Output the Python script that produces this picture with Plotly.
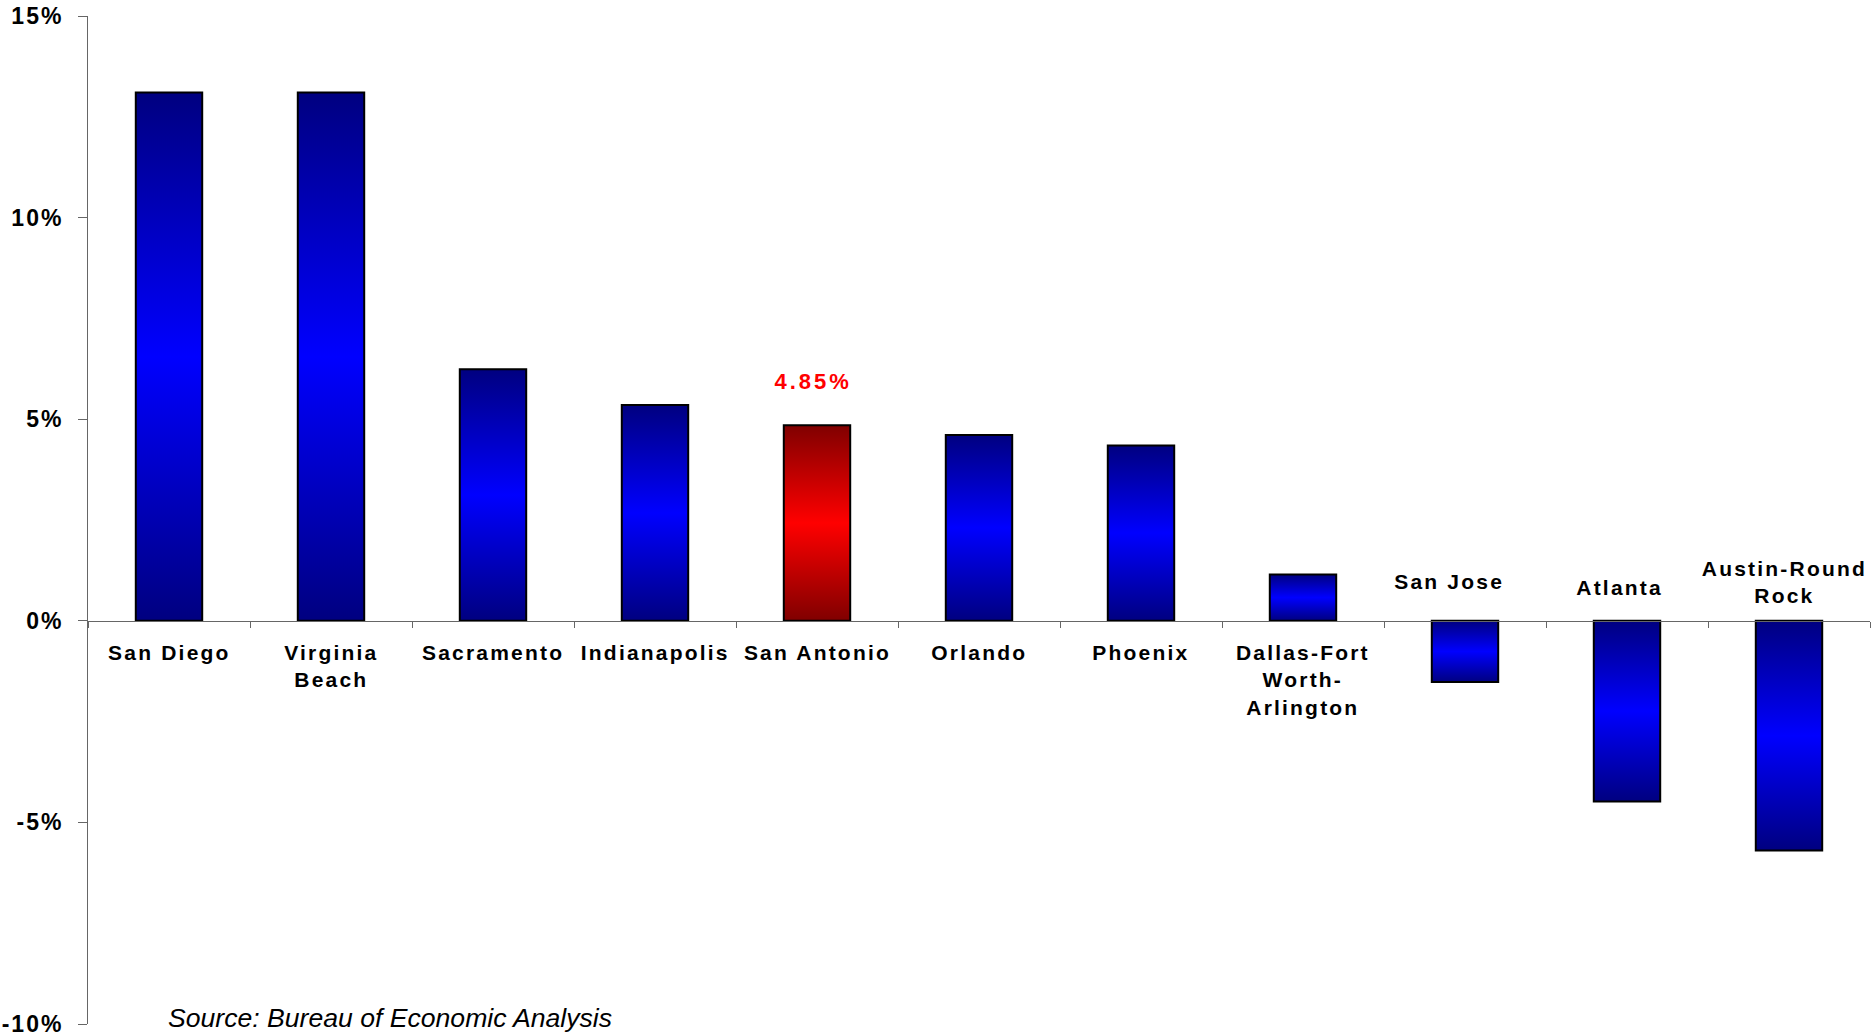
import json
import plotly.graph_objects as go

# ---- data -------------------------------------------------------------
cities = [
    "San Diego", "Virginia Beach", "Sacramento", "Indianapolis", "San Antonio",
    "Orlando", "Phoenix", "Dallas-Fort Worth-Arlington", "San Jose", "Atlanta",
    "Austin-Round Rock",
]
city_labels = [
    "San Diego", "Virginia<br>Beach", "Sacramento", "Indianapolis", "San Antonio",
    "Orlando", "Phoenix", "Dallas-Fort<br>Worth-<br>Arlington", "San Jose", "Atlanta",
    "Austin-Round<br>Rock",
]
growth_pct = [13.1, 13.1, 6.24, 5.35, 4.85, 4.61, 4.35, 1.15, -1.52, -4.48, -5.70]
highlight_city = "San Antonio"
y_tick_values = [-10, -5, 0, 5, 10, 15]
y_tick_labels = ["-10%", "-5%", "0%", "5%", "10%", "15%"]
source_note = "Source: Bureau of Economic Analysis"

# ---- style ------------------------------------------------------------
FONT = "Liberation Sans, Arial, sans-serif"
BLUE_MID, BLUE_END = "#0000ff", "#000080"
RED_MID, RED_END = "#ff0000", "#800000"
AXIS_GREY = "#666666"
label_shift_below = -18                     # labels under positive bars
# labels drawn above negative bars: (vertical, horizontal) nudges in px
label_shift_above = {"San Jose": (26, -16), "Atlanta": (20, -8), "Austin-Round Rock": (12, -5)}

bar_colors = [RED_MID if c == highlight_city else BLUE_MID for c in cities]

fig = go.Figure()
fig.add_trace(go.Bar(
    x=cities,
    y=growth_pct,
    width=0.41,
    marker=dict(color=bar_colors, line=dict(color="#000000", width=2)),
    hoverinfo="skip",
))

annotations = []
letter_spacing = []

# source note (no extra tracking)
annotations.append(dict(
    xref="paper", yref="paper", x=0.044, y=0.006, xanchor="left", yanchor="middle",
    text=source_note, showarrow=False,
    font=dict(family=FONT, size=26.6, color="#000000", style="italic"),
))
letter_spacing.append(0)

# category labels sit on the opposite side of the zero line from their bar
for city, label, val in zip(cities, city_labels, growth_pct):
    if val >= 0:
        ann = dict(yanchor="top", yshift=label_shift_below)
    else:
        dy, dx = label_shift_above.get(city, (20, 0))
        ann = dict(yanchor="bottom", yshift=dy, xshift=dx)
    ann.update(
        xref="x", yref="y", x=city, y=0, xanchor="center", text=label,
        showarrow=False, align="center",
        font=dict(family=FONT, size=21, color="#000000", weight="bold"),
    )
    annotations.append(ann)
    letter_spacing.append(2.2)

# value callout for the highlighted city
hi_val = growth_pct[cities.index(highlight_city)]
annotations.append(dict(
    xref="x", yref="y", x=highlight_city, y=hi_val, xanchor="center", yanchor="bottom",
    yshift=29, xshift=-4, text=f"{hi_val:.2f}%", showarrow=False,
    font=dict(family=FONT, size=22, color="#ff0000", weight="bold"),
))
letter_spacing.append(3)

fig.update_layout(
    width=1873, height=1036,
    margin=dict(l=88, r=3, t=16, b=12, pad=0),
    paper_bgcolor="#ffffff", plot_bgcolor="#ffffff",
    showlegend=False,
    annotations=annotations,
    xaxis=dict(
        type="category", categoryorder="array", categoryarray=cities,
        range=[-0.5, len(cities) - 0.5], automargin=False,
        anchor="free", position=(0 - y_tick_values[0]) / (y_tick_values[-1] - y_tick_values[0]),
        showline=True, linecolor=AXIS_GREY, linewidth=1,
        ticks="outside", tickson="boundaries", ticklen=6, tickcolor=AXIS_GREY, tickwidth=1,
        showticklabels=False, showgrid=False, zeroline=False,
    ),
    yaxis=dict(
        range=[y_tick_values[0], y_tick_values[-1]], automargin=False,
        tickmode="array", tickvals=y_tick_values, ticktext=y_tick_labels,
        showline=True, linecolor=AXIS_GREY, linewidth=1,
        ticks="outside", ticklen=9, tickcolor=AXIS_GREY, tickwidth=1,
        ticklabelstandoff=10, ticklabeloverflow="allow",
        tickfont=dict(family=FONT, size=23, color="#000000", weight="bold"),
        showgrid=False, zeroline=False,
    ),
)

# Vertical dark-bright-dark fills for the bars and spaced lettering.
post_js = """
var gd = document.getElementById('{plot_id}');
var NS = 'http://www.w3.org/2000/svg';
var ramps = {gBlue: ['%s', '%s'], gRed: ['%s', '%s']};
var spacing = %s;
function decorate() {
  var defs = gd.querySelector('.main-svg defs');
  Object.keys(ramps).forEach(function (id) {
    if (document.getElementById(id)) return;
    var g = document.createElementNS(NS, 'linearGradient');
    g.setAttribute('id', id);
    g.setAttribute('x1', '0'); g.setAttribute('y1', '0');
    g.setAttribute('x2', '0'); g.setAttribute('y2', '1');
    [[0, 0], [0.5, 1], [1, 0]].forEach(function (s) {
      var st = document.createElementNS(NS, 'stop');
      st.setAttribute('offset', s[0]);
      st.setAttribute('stop-color', ramps[id][s[1]]);
      g.appendChild(st);
    });
    defs.appendChild(g);
  });
  gd.querySelectorAll('.barlayer .point path').forEach(function (p) {
    var f = p.style.fill || '';
    if (f.indexOf('url') === 0) return;
    p.style.fill = (f.indexOf('255, 0, 0') >= 0) ? 'url(#gRed)' : 'url(#gBlue)';
  });
  gd.querySelectorAll('.ytick text').forEach(function (t) { t.style.letterSpacing = '2px'; });
  gd.querySelectorAll('g.annotation').forEach(function (a) {
    var i = +a.getAttribute('data-index');
    var t = a.querySelector('text');
    if (t && spacing[i]) t.style.letterSpacing = spacing[i] + 'px';
  });
}
decorate();
gd.on('plotly_afterplot', decorate);
""" % (BLUE_END, BLUE_MID, RED_END, RED_MID, json.dumps(letter_spacing))

fig.write_html("out.html", post_script=post_js, config={"displayModeBar": False})
